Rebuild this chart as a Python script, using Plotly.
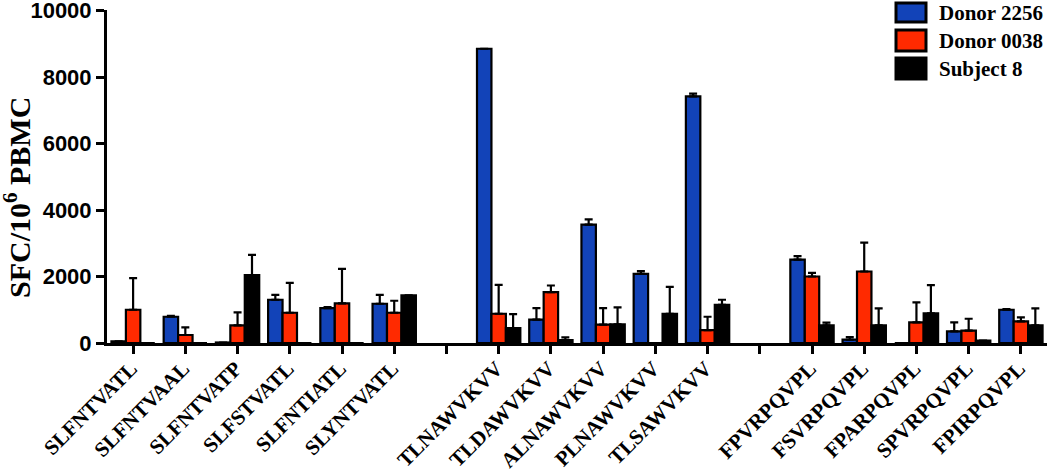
import plotly.graph_objects as go

# ---- data ----
categories = ["SLFNTVATL", "SLFNTVAAL", "SLFNTVATP", "SLFSTVATL", "SLFNTIATL", "SLYNTVATL", "",
              "TLNAWVKVV", "TLDAWVKVV", "ALNAWVKVV", "PLNAWVKVV", "TLSAWVKVV", " ",
              "FPVRPQVPL", "FSVRPQVPL", "FPARPQVPL", "SPVRPQVPL", "FPIRPQVPL"]

donor2256 = [50, 790, 15, 1300, 1050, 1180, None,
             8850, 700, 3560, 2080, 7420, None,
             2510, 100, 0, 350, 1000]
donor2256_err = [0, 30, 0, 150, 30, 270, None,
                 0, 350, 160, 80, 80, None,
                 100, 80, 0, 270, 20]

donor0038 = [1000, 240, 530, 910, 1190, 910, None,
             880, 1530, 550, 0, 390, None,
             2000, 2150, 620, 370, 650]
donor0038_err = [950, 230, 390, 900, 1040, 360, None,
                 870, 200, 500, 0, 400, None,
                 110, 870, 600, 360, 120]

subject8 = [0, 0, 2040, 0, 0, 1430, None,
            450, 90, 560, 880, 1150, None,
            530, 530, 890, 70, 530]
subject8_err = [0, 0, 610, 0, 0, 0, None,
                420, 80, 510, 810, 150, None,
                80, 510, 850, 0, 510]

series_names = ["Donor 2256", "Donor 0038", "Subject 8"]
colors = ["#1243B8", "#FF2A00", "#000000"]

y_ticks = [0, 2000, 4000, 6000, 8000, 10000]

# ---- figure ----
positions = list(range(len(categories)))
fig = go.Figure()
for name, vals, errs, col in zip(series_names,
                                 [donor2256, donor0038, subject8],
                                 [donor2256_err, donor0038_err, subject8_err],
                                 colors):
    fig.add_trace(go.Bar(
        x=positions, y=vals, name=name,
        marker=dict(color=col, line=dict(color="black", width=2.2)),
        error_y=dict(type="data", symmetric=False, array=errs,
                     arrayminus=[0] * len(errs), color="black",
                     thickness=2.2, width=4),
        showlegend=False,
    ))

L, R, T, B = 107, 3, 10, 132
W, H = 1050, 475
pw, ph = W - L - R, H - T - B


def px2x(px):
    return (px - L) / pw


def px2y(py):
    return (H - B - py) / ph


fig.update_layout(
    width=W, height=H,
    margin=dict(l=L, r=R, t=T, b=B, autoexpand=False),
    paper_bgcolor="white", plot_bgcolor="white",
    barmode="group", bargap=0.17, bargroupgap=0,
    xaxis=dict(
        range=[-0.5, len(categories) - 0.5],
        tickmode="array", tickvals=positions, ticktext=categories,
        tickangle=-45,
        tickfont=dict(family="Liberation Serif", size=21, color="black", weight="bold"),
        ticklabelshift=-2, ticklabelstandoff=-6, ticklabeloverflow="allow",
        showline=True, linecolor="black", linewidth=3,
        ticks="outside", ticklen=8, tickwidth=2.5, tickcolor="black",
        showgrid=False, zeroline=False, automargin=False,
    ),
    yaxis=dict(
        range=[0, 10015],
        tickmode="array", tickvals=y_ticks, ticktext=[str(v) for v in y_ticks],
        tickfont=dict(family="Liberation Sans", size=22, color="black", weight="bold"),
        ticklabeloverflow="allow",
        showline=True, linecolor="black", linewidth=3,
        ticks="outside", ticklen=8, tickwidth=2.5, tickcolor="black",
        showgrid=False, zeroline=False, automargin=False,
    ),
)

# y-axis title
fig.add_annotation(
    text="SFC/10<sup>6</sup> PBMC", xref="paper", yref="paper",
    x=px2x(17), y=px2y(198), textangle=-90, showarrow=False,
    font=dict(family="Liberation Serif", size=30, color="black", weight="bold"),
    xanchor="center", yanchor="middle",
)

# legend
leg_y = [(3, 22), (30, 51), (58, 79)]
for (y0, y1), name, col in zip(leg_y, series_names, colors):
    fig.add_shape(type="rect", xref="paper", yref="paper",
                  x0=px2x(896), x1=px2x(926), y0=px2y(y1), y1=px2y(y0),
                  fillcolor=col, line=dict(color="black", width=3))
    fig.add_annotation(text=name, xref="paper", yref="paper",
                       x=px2x(937), y=px2y((y0 + y1) / 2), showarrow=False,
                       xanchor="left", yanchor="middle",
                       font=dict(family="Liberation Serif", size=21, color="black", weight="bold"))

fig.write_html("out.html", config={"displayModeBar": False},
               post_script="document.body.style.margin='0';document.body.style.overflow='hidden';")
